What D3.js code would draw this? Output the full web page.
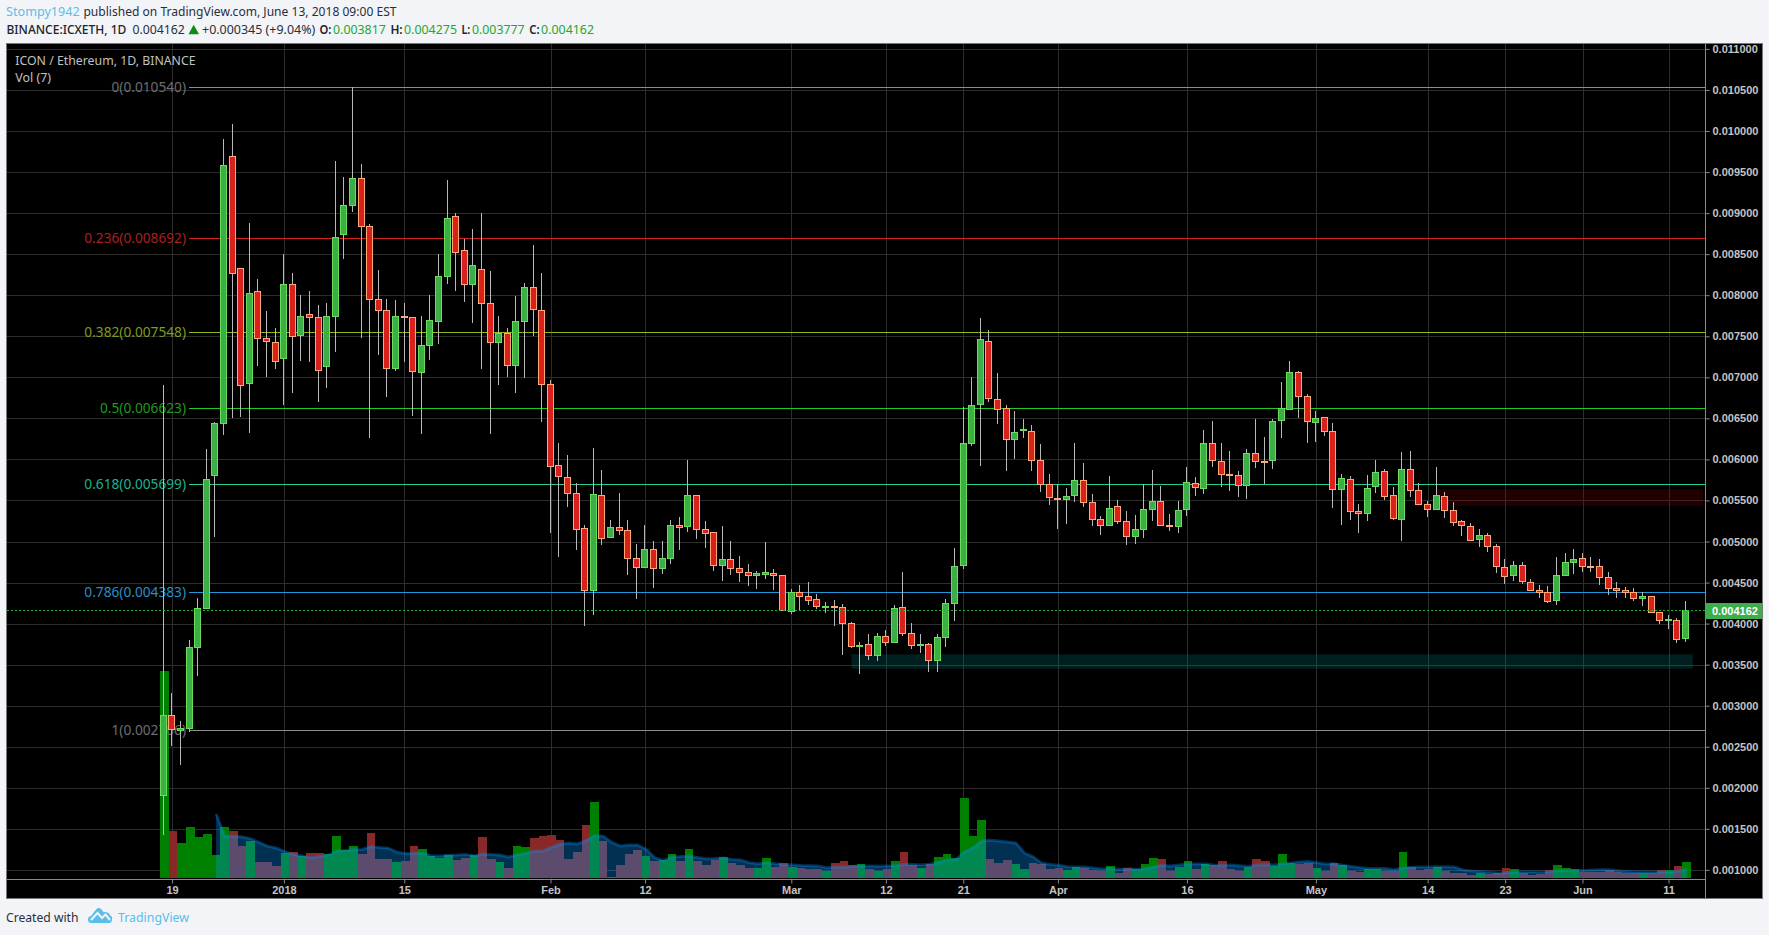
<!DOCTYPE html>
<html><head><meta charset="utf-8">
<script src="https://cdn.jsdelivr.net/npm/d3@7"></script>
<style>html,body{margin:0;padding:0;background:#f2f4f8;overflow:hidden}svg{display:block}</style>
</head><body><div id="chart"></div>
<script>
// Prices in millionths of ETH, one entry per daily candle (18 Dec 2017 - 13 Jun 2018)
const opens=[1905,2883,2710,2725,3708,4183,5803,6440,9692,8336,6923,8048,7475,7435,7227,8133,7512,7767,7731,7130,7739,8738,9091,9424,8839,7950,7816,7106,7745,7731,7057,7386,7678,8230,8961,8547,8129,8316,7901,7422,7536,7142,7678,8096,7816,6915,5929,5782,5588,5161,4402,5562,5047,5173,5136,4795,4681,4905,4669,4791,5197,5181,5562,5148,5112,4706,4783,4673,4625,4584,4608,4612,4588,4150,4381,4332,4296,4204,4210,4198,4003,3725,3748,3610,3845,3768,4198,3882,3738,3748,3549,3829,4243,4706,6192,6667,7438,6732,6622,6240,6352,6342,5989,5696,5530,5510,5558,5745,5477,5270,5197,5428,5246,5059,5144,5388,5489,5197,5181,5388,5709,5644,6196,5977,5818,5806,5680,6074,5980,5985,6472,6606,7061,6768,6448,6512,6342,5631,5758,5368,5339,5668,5855,5563,5271,5880,5624,5453,5393,5551,5380,5246,5194,5023,5076,4942,4694,4585,4710,4503,4410,4390,4280,4585,4743,4796,4702,4698,4564,4430,4406,4382,4304,4333,4138,4037,4049,3817];
const highs=[6907,3155,2814,3801,4313,6128,6456,9903,10086,8336,8876,8198,7808,7597,8502,8271,8003,8052,7881,7905,9635,9440,10540,9598,8868,8307,7954,7942,7905,7731,7747,8003,8502,9404,8998,8685,8803,8998,8295,7747,7597,7991,8149,8612,8271,6968,6201,6054,5713,5202,6140,5871,5262,5591,5262,4970,5201,5006,5006,5262,5299,5993,5562,5250,5112,5189,5006,4824,4726,4641,4994,4665,4588,4422,4470,4507,4361,4263,4288,4239,4020,3776,3873,3886,3922,4227,4629,4007,3873,3768,3873,4300,4921,6638,7004,7720,7576,7052,6663,6590,6492,6415,6188,5822,5696,5652,6200,5952,5579,5311,5798,5506,5372,5323,5696,5871,5676,5335,5489,5908,5786,6358,6468,6200,6102,5859,6127,6492,6273,6492,6943,7199,7077,6797,6590,6512,6443,5819,5798,5457,5810,5993,5883,5665,6091,6103,5709,5490,5908,5604,5478,5259,5222,5157,5100,4970,4788,4763,4751,4540,4467,4459,4812,4861,4909,4861,4812,4788,4629,4503,4447,4434,4382,4333,4146,4105,4065,4275];
const lows=[1430,2510,2282,2684,3367,4183,5060,6302,6509,6521,6318,7142,7008,7106,6667,6813,7203,7191,6704,6874,7313,8445,9018,7483,6265,7272,6765,7081,7191,6533,6314,7211,7410,8141,8056,7922,7666,7106,6314,6911,7008,6813,6996,7504,6460,5109,4816,5425,4901,3976,4110,4962,5047,5079,4592,4304,4681,4438,4608,4730,4901,5120,5035,4925,4645,4523,4596,4507,4462,4426,4547,4409,4162,4121,4166,4227,4182,4133,3975,3622,3703,3390,3561,3549,3731,3768,3853,3695,3646,3415,3415,3715,4032,4669,6167,5924,6703,6435,5863,6005,6265,5863,5607,5449,5156,5217,5485,5424,5193,5083,5197,5217,4962,4974,5047,5254,5193,5132,5108,5315,5558,5583,5912,5668,5619,5546,5522,5899,5705,5887,6265,6606,6508,6200,6216,6289,5408,5206,5262,5108,5254,5595,5506,5267,5011,5539,5624,5303,5393,5291,5194,5072,5011,4938,4877,4621,4487,4524,4487,4402,4317,4256,4231,4585,4605,4629,4629,4475,4353,4317,4317,4280,4219,4134,4000,3939,3769,3777];
const closes=[2883,2708,2730,3712,4187,5758,6440,9582,8267,6915,8023,7475,7439,7207,8133,7499,7743,7731,7085,7743,8705,9095,9424,8835,7950,7812,7106,7743,7735,7069,7390,7694,8230,8937,8519,8129,8364,7897,7422,7536,7142,7682,8096,7824,6911,5912,5791,5584,5145,4402,5575,5035,5173,5132,4791,4681,4905,4669,4795,5197,5169,5562,5144,5096,4706,4783,4669,4620,4584,4612,4629,4584,4162,4381,4328,4280,4206,4216,4194,3999,3719,3740,3610,3845,3768,4186,3878,3731,3750,3549,3833,4247,4698,6196,6659,7462,6740,6606,6240,6330,6370,5985,5692,5534,5515,5550,5745,5473,5266,5193,5404,5242,5059,5148,5392,5489,5193,5181,5380,5721,5656,6196,5985,5814,5802,5680,6074,5972,5974,6464,6622,7061,6764,6460,6500,6338,5631,5770,5364,5339,5648,5843,5546,5283,5880,5624,5453,5393,5563,5376,5230,5194,5023,5076,4938,4694,4585,4710,4512,4402,4390,4280,4589,4747,4784,4694,4694,4560,4426,4402,4382,4304,4333,4134,4037,4050,3817,4162];
// Volume, relative units (visible height of each bar)
const volumes=[207,47,35,51,41,44,23,51,47,32,37,16,16,12,25,26,22,25,25,24,42,28,32,24,45,19,19,16,17,32,29,22,20,23,18,20,23,41,19,16,10,32,31,40,42,43,38,19,26,53,76,37,1,13,24,28,22,17,18,24,17,29,17,13,18,21,15,13,10,10,20,11,15,11,10,9,9,7,15,17,13,14,9,7,9,17,26,13,10,14,21,24,20,80,42,58,19,15,18,14,9,15,14,9,10,8,11,10,8,7,12,5,10,9,14,20,19,7,11,17,9,14,13,17,9,7,11,19,17,12,24,15,14,15,10,7,15,13,7,6,9,9,7,7,26,11,8,9,11,7,5,5,3,5,4,5,10,9,5,3,4,8,13,10,9,6,6,6,8,6,5,5,5,5,8,8,12,16];
// Vol (7) moving-average curve, starts at candle 6
const volumeAverage=[64,41.7,41.7,41.3,39.3,35.7,31.7,30.1,26.4,23.4,22,20.3,21.6,22.7,27,27.4,28.3,28.6,31.4,30.6,29.9,26.1,24.6,24.6,25.3,22,22.1,22.7,23,23.4,22.1,23.9,23.4,22.9,21,23,24.6,27,27.1,30.6,33.7,35,34.1,37.3,42.4,41.7,35.7,32.1,32.9,33.1,28.7,20.3,17.6,20.9,21.4,22.1,20.6,19.3,19.4,19.9,18.6,18,15.3,14.3,15.3,14.3,13.4,12.9,12.4,12.3,12.1,10.3,10.9,11.1,11.4,12,12,11.7,12,12.3,13.6,13.6,13,13.7,15.7,17.9,18.3,26,30.1,37,37.7,36.9,36,35.1,25,21.1,14.9,13.4,12.7,11.3,10.9,11,10,9,9.4,8.7,9,8.7,9.3,11,12.7,12,12.9,13.9,13.9,13.9,12.9,12.6,12.9,12.3,11.4,12.9,13.3,13.1,14.1,15,16,16.6,15.3,13.9,14.3,12.7,11.6,10.4,9.6,9.4,9.4,8.3,10.1,10.7,11,11,11.3,11.3,11,8,6.9,6.4,5.7,4.9,5.3,5.9,5.9,5.9,5.7,6.3,7.4,7.4,7.4,7.6,8,8.3,8.3,7.3,6.6,6,5.9,5.7,6,6,6.9,8.4];
const averageStart=6;
// Axis labels
const priceTicks=[1000,1500,2000,2500,3000,3500,4000,4500,5000,5500,6000,6500,7000,7500,8000,8500,9000,9500,10000,10500,11000];
const timeTickDays=[1,14,28,45,56,73,84,93,104,119,134,147,156,165,175];
const timeTickLabels=["19","2018","15","Feb","12","Mar","12","21","Apr","16","May","14","23","Jun","11"];
// Fibonacci retracement
const fibRatios=["0","0.236","0.382","0.5","0.618","0.786","1"];
const fibPrices=[10540,8692,7548,6623,5699,4383,2706];
const fibLineColors=["#8c8c8c","#d42020","#8fbb10","#1ecb1e","#23cc96","#2196d8","#8c8c8c"];
const fibTextColors=["#6e6e6e","#a82020","#7e9c1e","#1c9c1c","#1fb090","#2a8fc4","#6e6e6e"];
// Drawn zones: [first day, last day, low price, high price]
const zoneSupport=[79.9,177.7,3451,3626];
const zoneResistance=[147.8,178.9,5433,5636];
const lastPrice=4162;

const W=1769,H=935,left=7,right=1705,frameR=1762,top_=44,bottom=879,frameB=898;
const x=d3.scaleLinear().domain([0,177]).range([164.5,1686.7]);
const y=d3.scaleLinear().domain([1000,11000]).range([869.9,48.9]);
const v=d3.scaleLinear().domain([0,100]).range([878,778]);
const px=n=>Math.round(n)+.5;
const sans="'Noto Sans','Open Sans',sans-serif", arial="'Liberation Sans',Arial,sans-serif";
const svg=d3.select("#chart").append("svg").attr("width",W).attr("height",H).attr("viewBox",`0 0 ${W} ${H}`);
svg.append("rect").attr("width",W).attr("height",H).attr("fill","#f2f4f8");

function seg(g,s,x0,x1,yy,fill,weight,size,family){
  return g.append("text").attr("x",x0).attr("y",yy).attr("dy","0.35em").attr("textLength",x1-x0).attr("lengthAdjust","spacingAndGlyphs")
   .attr("fill",fill).attr("font-family",family||sans).attr("font-size",size||13).attr("font-weight",weight||400).text(s);
}
const hd=svg.append("g");
seg(hd,"Stompy1942",6.1,79.6,11.7,"#5cbde8");
seg(hd,"published on TradingView.com, June 13, 2018 09:00 EST",83.4,396.5,11.7,"#2a2e39");
const UP="#22a82a",DK="#20232b";
seg(hd,"BINANCE:ICXETH, 1D",6.5,126.3,29.3,DK,500,12);
seg(hd,"0.004162",132.4,184.8,29.3,"#2a2e39");
hd.append("path").attr("d",d3.line()([[188.5,34.2],[193.7,24.8],[199,34.2]])+"Z").attr("fill","#0e8a14");
seg(hd,"+0.000345 (+9.04%)",202,315.3,29.3,"#2a2e39");
[["O:",319.5,331.4,"0.003817",333,385.8],["H:",390.4,402.6,"0.004275",404,457],["L:",461.5,470.3,"0.003777",471.9,524.7],["C:",529.3,539.6,"0.004162",541.1,594]]
 .forEach(r=>{seg(hd,r[0],r[1],r[2],29.3,DK,600);seg(hd,r[3],r[4],r[5],29.3,UP);});

// pane
svg.append("rect").attr("x",left-.5).attr("y",top_-.5).attr("width",frameR-left+1).attr("height",frameB-top_+1).attr("fill","#000").attr("stroke","#777");
const grid=svg.append("g").attr("stroke","#2c2c2c").attr("stroke-width",1).attr("shape-rendering","crispEdges");
grid.selectAll("line.h").data(priceTicks).join("line").attr("class","h").attr("x1",left).attr("x2",right).attr("y1",d=>px(y(d))).attr("y2",d=>px(y(d)));
grid.selectAll("line.v").data(timeTickDays).join("line").attr("class","v").attr("y1",top_).attr("y2",bottom).attr("x1",d=>px(x(d))-1).attr("x2",d=>px(x(d))-1);

// zones
const zone=(z,c)=>svg.append("rect").attr("x",x(z[0])).attr("width",x(z[1])-x(z[0])).attr("y",y(z[3])).attr("height",y(z[2])-y(z[3])).attr("fill",c);
zone(zoneSupport,"rgba(0,128,128,.25)");
zone(zoneResistance,"rgba(128,0,0,.25)");

// volume
const dayIdx=d3.range(closes.length);
const isUp=i=>closes[i]>=opens[i];
svg.append("g").attr("shape-rendering","crispEdges").selectAll("rect").data(dayIdx).join("rect")
 .attr("x",i=>Math.round(x(i)-4.3)).attr("width",i=>Math.round(x(i)+4.3)-Math.round(x(i)-4.3))
 .attr("y",i=>v(volumes[i])).attr("height",i=>v(0)-v(volumes[i]))
 .attr("fill",i=>isUp(i)?"#008000":"#882828");
const maPts=volumeAverage.map((d,k)=>[x(k+averageStart),v(d)]);
svg.append("path").attr("d",d3.area().x(d=>d[0]).y0(v(0)).y1(d=>d[1])(maPts)).attr("fill","#0496ff").attr("fill-opacity",.32);
svg.append("path").attr("d",d3.line()(maPts)).attr("fill","none").attr("stroke","#0496ff").attr("stroke-opacity",.33).attr("stroke-width",3);

// fibs
const fib=svg.append("g");
fibPrices.forEach((p,k)=>{
  const yy=px(y(p));
  fib.append("line").attr("x1",189).attr("x2",right).attr("y1",yy).attr("y2",yy).attr("stroke",fibLineColors[k]).attr("shape-rendering","crispEdges");
  fib.append("text").attr("x",186).attr("y",yy).attr("dy","0.35em").attr("text-anchor","end").attr("fill",fibTextColors[k])
   .attr("font-family",sans).attr("font-size",13.7).text(`${fibRatios[k]}(${(p/1e6).toFixed(6)})`);
});

// candles
const cx=i=>Math.floor(x(i)-1.2);
const cg=svg.append("g").attr("shape-rendering","crispEdges");
cg.selectAll("line").data(dayIdx).join("line").attr("x1",i=>cx(i)+.5).attr("x2",i=>cx(i)+.5).attr("y1",i=>y(highs[i])).attr("y2",i=>y(lows[i])).attr("stroke","#b8b8b8");
cg.selectAll("rect").data(dayIdx).join("rect")
 .attr("x",i=>cx(i)-2.5).attr("width",6)
 .attr("y",i=>Math.round(y(Math.max(opens[i],closes[i])))+.5).attr("height",i=>Math.max(1,Math.round(Math.abs(y(opens[i])-y(closes[i])))))
 .attr("fill",i=>isUp(i)?"#3bae46":"#d7211a").attr("stroke",i=>isUp(i)?"#6cdc5c":"#ffa878");

// last price line
svg.append("line").attr("x1",left).attr("x2",right).attr("y1",px(y(lastPrice))).attr("y2",px(y(lastPrice))).attr("stroke","#22b030").attr("stroke-dasharray","2,2").attr("shape-rendering","crispEdges");

// axes
const axisC="#8a8a8a";
svg.append("line").attr("x1",px(right)).attr("x2",px(right)).attr("y1",top_).attr("y2",frameB).attr("stroke",axisC).attr("shape-rendering","crispEdges");
svg.append("line").attr("x1",left).attr("x2",right).attr("y1",px(bottom)).attr("y2",px(bottom)).attr("stroke",axisC).attr("shape-rendering","crispEdges");
const axR=svg.append("g").attr("transform",`translate(${px(right)},0)`)
 .call(d3.axisRight(y).tickValues(priceTicks).tickSize(4).tickPadding(3).tickFormat(d=>(d/1e6).toFixed(6)));
axR.select(".domain").remove();
axR.selectAll("line").attr("stroke",axisC);
axR.selectAll("text").attr("fill","#c4c4c4").attr("font-family",arial).attr("font-size",11).attr("font-weight",700);
const axB=svg.append("g").attr("transform",`translate(-1,${px(bottom)})`)
 .call(d3.axisBottom(x).tickValues(timeTickDays).tickSize(4).tickPadding(3).tickFormat((d,k)=>timeTickLabels[k]));
axB.select(".domain").remove();
axB.selectAll("line").attr("stroke",axisC);
axB.selectAll("text").attr("fill","#c4c4c4").attr("font-family",arial).attr("font-size",11).attr("font-weight",700);

// last price tag
svg.append("rect").attr("x",right).attr("y",603).attr("width",frameR-right).attr("height",16).attr("fill","#3cae4c");
svg.append("text").attr("x",1712).attr("y",611).attr("dy","0.35em").attr("fill","#fff").attr("font-family",arial).attr("font-size",11).attr("font-weight",700).text((lastPrice/1e6).toFixed(6));

// titles
const tg=svg.append("g");
seg(tg,"ICON / Ethereum, 1D, BINANCE",15.3,195.6,60.7,"#c0c0c0");
seg(tg,"Vol (7)",15.3,51,77.7,"#c0c0c0");

// footer
const ft=svg.append("g");
seg(ft,"Created with",6,78.5,917.5,"#2a2e39");
seg(ft,"TradingView",118,189,917.5,"#5cbde8");
const logo=ft.append("g").attr("fill","#5cbde8");
logo.append("path").attr("d","M88 919.5a3.5 3.5 0 0 1 3-3.5 l5.5-7 a3 3 0 0 1 4.500 0 l2.800 3.200 a5 5 0 0 1 6.200 3 a3.600 3.600 0 0 1 2 4.300 a3.500 3.500 0 0 1-3.500 3.500 h-17 a3.500 3.500 0 0 1-3.500-3.500Z");
ft.append("path").attr("d","M91 920 L97.500 913 L102 918 L105.500 914.500 L110 920").attr("fill","none").attr("stroke","#f2f4f8").attr("stroke-width",2);
</script></body></html>
